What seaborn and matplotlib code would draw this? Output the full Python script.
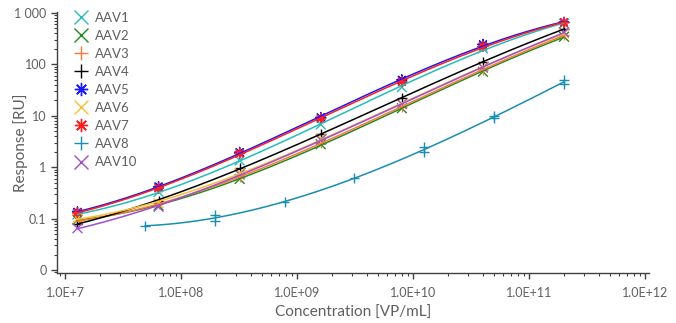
import numpy as np
import pandas as pd
import matplotlib
matplotlib.use("Agg")
import matplotlib.pyplot as plt
from matplotlib.ticker import FixedLocator, FixedFormatter, LogLocator, NullFormatter
import seaborn as sns

# 濃度 (5倍希釈, AAV8のみ4倍希釈)
conc5 = [1.28e7, 6.4e7, 3.2e8, 1.6e9, 8e9, 4e10, 2e11]
conc8 = [4.88e7, 1.95e8, 1.95e8, 7.8e8, 3.125e9, 1.25e10, 1.25e10, 5e10, 5e10, 2e11, 2e11]

# 各サンプルのレスポンス [RU]
aav1 = [0.12, 0.33, 1.35, 6.8, 36, 205, 620]
aav2 = [0.095, 0.18, 0.59, 2.8, 14, 72, 345]
aav3 = [0.09, 0.19, 0.64, 3.0, 15, 78, 370]
aav4 = [0.08, 0.22, 0.96, 4.5, 22, 112, 490]
aav5 = [0.135, 0.42, 1.95, 9.3, 50, 245, 660]
aav6 = [0.1, 0.2, 0.77, 3.6, 17, 88, 400]
aav7 = [0.13, 0.39, 1.85, 8.8, 46, 225, 650]
aav8 = [0.072, 0.09, 0.12, 0.21, 0.61, 2.0, 2.5, 8.9, 10.1, 42, 50]
aav10 = [0.065, 0.17, 0.72, 3.4, 17, 86, 420]

samples = ["AAV1", "AAV2", "AAV3", "AAV4", "AAV5", "AAV6", "AAV7", "AAV8", "AAV10"]
values = [aav1, aav2, aav3, aav4, aav5, aav6, aav7, aav8, aav10]
colors = ["#26bcbc", "#1f8c1f", "#ff7a38", "#000000", "#1a1aff", "#f5c132", "#ff1f1f", "#1a8db3", "#a04fd0"]
asterisk = (8, 2, 0)
markers = ["x", "x", "+", "+", asterisk, "x", asterisk, "+", "x"]

xticks = [1e7, 1e8, 1e9, 1e10, 1e11, 1e12]
xlabels = ["1.0E+7", "1.0E+08", "1.0E+09", "1.0E+10", "1.0E+11", "1.0E+12"]
yticks = [0.01, 0.1, 1, 10, 100, 1000]
ylabels = ["0", "0.1", "1", "10", "100", "1 000"]

# ロング形式のデータフレーム
rows = []
for s, v in zip(samples, values):
    cx = conc8 if s == "AAV8" else conc5
    for c, r in zip(cx, v):
        rows.append({"sample": s, "conc": c, "resp": r})
df = pd.DataFrame(rows)

# フィット曲線 (log-log 3次多項式)
fit_rows = []
for s in samples:
    d = df[df["sample"] == s]
    lx = np.log10(d["conc"].values)
    ly = np.log10(d["resp"].values)
    p = np.polyfit(lx, ly, 3)
    gx = np.linspace(lx.min(), lx.max(), 200)
    for a, b in zip(gx, np.polyval(p, gx)):
        fit_rows.append({"sample": s, "conc": 10 ** a, "resp": 10 ** b})
fit = pd.DataFrame(fit_rows)

sns.set_style("ticks")
plt.rcParams["font.family"] = ["Lato", "DejaVu Sans"]
gray = "#5f5f5f"

fig = plt.figure(figsize=(6.76, 3.23), dpi=100)
ax = fig.add_axes([57 / 676, 50 / 323, 592 / 676, 261 / 323])

pal = dict(zip(samples, colors))
mk = dict(zip(samples, markers))

sns.lineplot(data=fit, x="conc", y="resp", hue="sample", hue_order=samples, palette=pal,
             lw=1.1, legend=False, ax=ax, sort=False, estimator=None, units="sample")
sns.scatterplot(data=df, x="conc", y="resp", hue="sample", hue_order=samples, style="sample",
                style_order=samples, palette=pal, markers=mk, s=50, linewidth=1.0, ax=ax)

ax.set_xscale("log")
ax.set_yscale("log")
ax.set_xlim(8.53e6, 1.08e12)
ax.set_ylim(0.00874, 1045)

ax.xaxis.set_major_locator(FixedLocator(xticks))
ax.xaxis.set_major_formatter(FixedFormatter(xlabels))
ax.yaxis.set_major_locator(FixedLocator(yticks))
ax.yaxis.set_major_formatter(FixedFormatter(ylabels))
ax.xaxis.set_minor_locator(LogLocator(base=10, subs=np.arange(2, 10), numticks=20))
ax.yaxis.set_minor_locator(LogLocator(base=10, subs=np.arange(2, 10), numticks=20))
ax.xaxis.set_minor_formatter(NullFormatter())
ax.yaxis.set_minor_formatter(NullFormatter())

ax.tick_params(axis="both", which="major", labelsize=9, labelcolor=gray, color="#404040", length=4, width=1)
ax.tick_params(axis="x", which="major", pad=6)
ax.tick_params(axis="both", which="minor", color="#404040", length=2.5, width=0.8)
for sp in ["top", "right"]:
    ax.spines[sp].set_visible(False)
for sp in ["left", "bottom"]:
    ax.spines[sp].set_color("#404040")
    ax.spines[sp].set_linewidth(1)

ax.set_xlabel("Concentration [VP/mL]", fontsize=11, color=gray)
ax.set_ylabel("Response [RU]", fontsize=11, color=gray)
ax.xaxis.set_label_coords(0.5, -(313 - 273) / 261)
ax.yaxis.set_label_coords(-(57 - 21) / 592, 0.5)
ax.yaxis.label.set_va("center")
ax.xaxis.label.set_va("center")

h, l = ax.get_legend_handles_labels()
leg = ax.legend(h, l, loc="upper left", bbox_to_anchor=(66 / 676, 1 - 5 / 323), bbox_transform=fig.transFigure,
                frameon=False, fontsize=9.5, labelspacing=0.46, handletextpad=0.5, borderpad=0,
                handlelength=1.2, markerscale=1.35)
for t in leg.get_texts():
    t.set_color(gray)

fig.savefig("out.png", dpi=100)
